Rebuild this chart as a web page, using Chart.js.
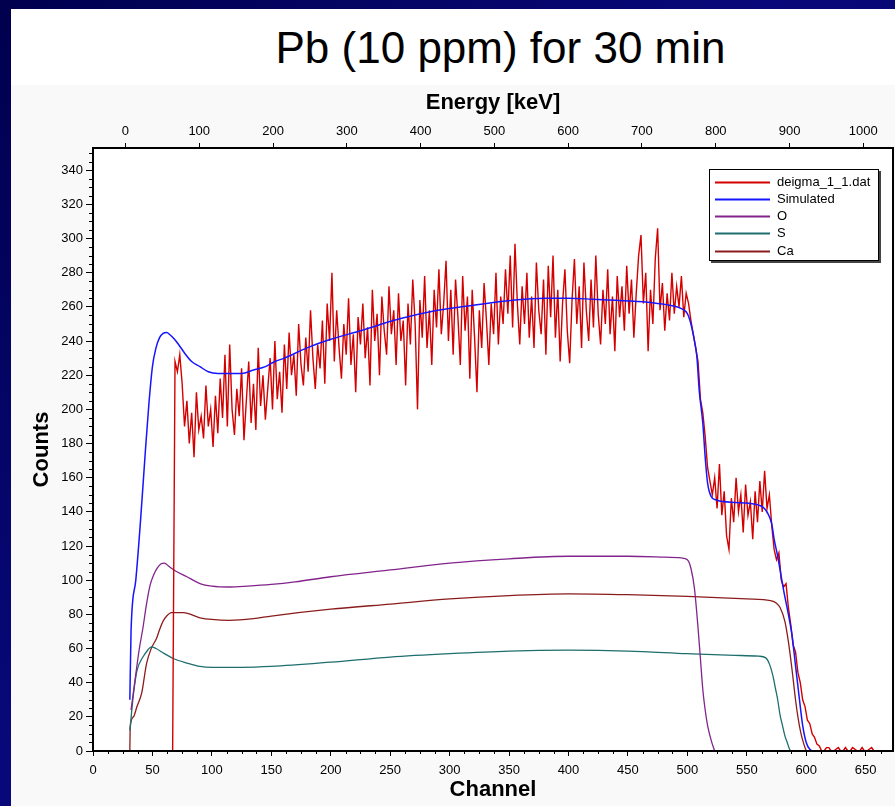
<!DOCTYPE html>
<html>
<head>
<meta charset="utf-8">
<title>Pb (10 ppm) for 30 min</title>
<script src="https://cdn.jsdelivr.net/npm/chart.js@4.4.1/dist/chart.umd.min.js"></script>
<style>
  html, body { margin: 0; padding: 0; }
  body {
    width: 895px; height: 806px; overflow: hidden; position: relative;
    background: linear-gradient(135deg, #00004e 0%, #08087a 45%, #000060 100%);
    font-family: "Liberation Sans", Arial, sans-serif;
  }
  #panel {
    position: absolute; left: 11px; top: 9px; width: 884px; height: 797px;
    background: linear-gradient(to bottom, #ffffff 0, #ffffff 76px, #f9f9f9 76px);
  }
  #title {
    position: absolute; left: 489.5px; top: 17px; transform: translateX(-50%);
    font-size: 44px; line-height: 1; white-space: nowrap; color: #000;
  }
  #chart { position: absolute; left: 0; top: 0; }
</style>
</head>
<body>
<div id="panel">
  <div id="title">Pb (10 ppm) for 30 min</div>
  <canvas id="chart" width="884" height="797"></canvas>
</div>
<script>
const FONT = '"Liberation Sans", Arial, sans-serif';

// axis ranges
const CHANNEL_MAX = 673;
const COUNTS_MAX = 353;
// energy calibration: E = (channel - 27.3) * 1.611 keV
const CAL_OFFSET_CH = 27.3;
const CAL_KEV_PER_CH = 1.611;

// measured spectrum (deigma_1_1.dat), every 2nd channel from channel 67
const measuredStart = 67;
const measuredStep = 2;
const measuredCounts = [
  0, 228, 222, 232, 215, 190, 205, 180, 198, 172, 210, 188, 196, 183, 214, 190, 200, 178, 208, 186,
  218, 195, 232, 190, 238, 200, 185, 212, 196, 224, 182, 205, 228, 192, 215, 188, 236, 202, 220, 194,
  212, 230, 200, 240, 206, 222, 198, 238, 212, 245, 220, 232, 208, 250, 226, 214, 242, 222, 258, 230,
  212, 238, 224, 252, 215, 262, 240, 280, 228, 258, 236, 218, 250, 232, 265, 226, 244, 210, 254, 238,
  262, 230, 248, 214, 270, 240, 256, 220, 266, 246, 232, 272, 244, 258, 226, 268, 240, 252, 214, 262,
  238, 276, 250, 200, 264, 242, 278, 236, 258, 226, 270, 248, 282, 244, 262, 287, 240, 270, 232, 276,
  254, 226, 278, 246, 266, 218, 270, 242, 210, 258, 236, 274, 252, 226, 262, 244, 280, 238, 266, 250,
  282, 256, 290, 248, 297, 262, 238, 272, 250, 280, 242, 266, 236, 286, 258, 244, 276, 232, 284, 254,
  290, 242, 270, 228, 262, 282, 246, 227, 264, 288, 250, 272, 236, 286, 258, 240, 276, 248, 290, 256,
  238, 270, 250, 282, 244, 266, 234, 278, 254, 272, 246, 284, 256, 276, 242, 268, 290, 302, 262, 280,
  234, 270, 250, 288, 306, 258, 274, 246, 268, 252, 280, 256, 272, 260, 278, 254, 268, 262, 252, 244,
  236, 228, 206, 198, 184, 166, 158, 150, 160, 142, 168, 138, 152, 126, 118, 148, 134, 160, 140, 150,
  128, 156, 138, 146, 124, 152, 134, 158, 140, 164, 142, 150, 132, 118, 112, 116, 100, 96, 98, 84,
  74, 62, 58, 46, 40, 30, 26, 18, 16, 10, 8, 4, 3, 0,
  0, 2, 2, 0, 0, 1, 2, 0, 0, 2, 0, 0, 2, 1, 0, 0, 2, 0, 0, 1, 2, 0, 0, 0
];

// Simulated total
const simChannels = [31, 32, 36, 40, 44, 47, 50, 53, 56, 59, 62, 65, 68, 72, 77, 83, 90, 97, 105, 115,
  125, 135, 145, 153, 161, 180, 200, 225, 258, 290, 320, 355, 380, 400, 420, 451, 470, 485, 495, 500,
  503, 506, 508, 510, 513, 515, 517, 520, 524, 530, 540, 552, 563, 567, 571, 573, 576, 579, 581, 585,
  588, 591, 594, 597, 600, 603, 606];
const simCounts = [30, 70, 100, 135, 175, 203, 225, 236, 242, 244.5, 245, 243.5, 241.5, 238, 233, 228, 225, 222, 221, 221,
  221, 223, 225, 228, 230, 236, 241, 246, 253, 258, 261, 264, 265, 265, 264.5, 263.5, 262.5, 261, 259, 256,
  250, 240, 231, 211, 192, 172, 157, 149, 147, 146, 145.5, 145, 143, 140, 133, 124, 114, 102, 94, 80,
  68, 50, 32, 15, 5, 1, 0];

// O contribution
const oChannels = [32, 36, 39, 42, 45, 48, 51, 54, 57, 60, 64, 68, 79, 90, 100, 115, 130, 150, 170, 200,
  250, 300, 350, 400, 450, 480, 495, 500, 503, 506, 509, 511, 513, 515, 517, 519, 521, 523];
const oCounts = [24, 45, 60, 72, 86, 97, 103, 107, 109.5, 110, 108, 106, 102, 98, 96.5, 96, 96.5, 97.5, 99, 102,
  106, 110, 112.5, 114, 114, 113.5, 113, 112, 107, 95, 72, 54, 36, 24, 15, 9, 4, 0];

// S contribution
const sChannels = [31, 34, 37, 42, 46, 49, 53, 60, 68, 79, 90, 100, 125, 150, 200, 250, 300, 350, 400, 450,
  500, 540, 560, 566, 569, 572, 574, 576, 578, 580, 582, 584, 586, 588];
const sCounts = [12, 33, 47, 55, 59, 61, 60, 57, 54, 51.5, 49.5, 49, 49, 49.5, 52, 55, 57, 58.5, 59, 58.5,
  57, 56, 55.5, 54.5, 51, 44, 37, 30, 21, 15, 9, 5, 1, 0];

// Ca contribution
const caChannels = [31, 31.3, 34, 37, 41, 45, 49, 53.5, 56, 59, 62, 66, 76, 90, 100, 115, 135, 150, 200, 250,
  300, 350, 400, 450, 500, 550, 570, 575, 578, 582, 585, 588, 591, 593, 595.5, 598, 600];
const caCounts = [0, 14, 20, 26, 34, 51, 60, 66, 71, 76, 79, 81, 81, 78, 77, 76.5, 77.5, 79, 83, 86,
  89, 91, 92, 91.5, 90.5, 89, 88, 86.5, 84, 76, 64, 48, 30, 20, 10.5, 4, 0];

const seriesLabels = ['deigma_1_1.dat', 'Simulated', 'O', 'S', 'Ca'];
const seriesColors = ['#d40000', '#1515ff', '#82248c', '#1e6e6e', '#8b1c1c'];

// minor tick spacing
const MINOR_COUNTS = 5;
const MINOR_CHANNELS = 12.5;

function pairs(xs, ys) {
  return ys.map((y, i) => ({ x: xs[i], y }));
}

const measuredData = measuredCounts.map((y, i) => ({ x: measuredStart + i * measuredStep, y }));

// white plot area, frame and minor ticks
const framePlugin = {
  id: 'frame',
  beforeDatasetsDraw(chart) {
    const { ctx, chartArea: a } = chart;
    ctx.save();
    ctx.fillStyle = '#ffffff';
    ctx.fillRect(a.left, a.top, a.right - a.left, a.bottom - a.top);
    ctx.restore();
  },
  afterDatasetsDraw(chart) {
    const { ctx, chartArea: a, scales } = chart;
    ctx.save();
    ctx.strokeStyle = '#000';
    ctx.lineWidth = 1;
    ctx.beginPath();
    for (let v = MINOR_COUNTS; v <= scales.y.max; v += MINOR_COUNTS) {
      if (v % 20 === 0) continue;
      const py = Math.round(scales.y.getPixelForValue(v)) + 0.5;
      ctx.moveTo(a.left, py);
      ctx.lineTo(a.left - 4, py);
    }
    for (let v = MINOR_CHANNELS; v <= scales.x.max; v += MINOR_CHANNELS) {
      if (v % 50 === 0) continue;
      const px = Math.round(scales.x.getPixelForValue(v)) + 0.5;
      ctx.moveTo(px, a.bottom);
      ctx.lineTo(px, a.bottom + 3);
    }
    ctx.stroke();
    ctx.lineWidth = 2;
    ctx.strokeRect(a.left, a.top, a.right - a.left, a.bottom - a.top);
    ctx.restore();
  }
};

// legend box in the upper right of the plot
const legendBoxPlugin = {
  id: 'legendBox',
  afterDraw(chart) {
    const { ctx, chartArea: a } = chart;
    const w = 170, h = 92;
    const x0 = a.right - 14 - w;
    const y0 = a.top + 21;
    ctx.save();
    ctx.fillStyle = '#444';
    ctx.fillRect(x0 + 2, y0 + 2, w, h);
    ctx.fillStyle = '#fff';
    ctx.fillRect(x0, y0, w, h);
    ctx.strokeStyle = '#000';
    ctx.lineWidth = 1;
    ctx.strokeRect(x0 + 0.5, y0 + 0.5, w - 1, h - 1);
    ctx.font = '13px ' + FONT;
    ctx.textBaseline = 'middle';
    chart.data.datasets.forEach((ds, i) => {
      const y = Math.round(y0 + 12.5 + i * 17.3) + 0.5;
      ctx.strokeStyle = ds.borderColor;
      ctx.lineWidth = 2;
      ctx.beginPath();
      ctx.moveTo(x0 + 6, y);
      ctx.lineTo(x0 + 61, y);
      ctx.stroke();
      ctx.fillStyle = '#000';
      ctx.fillText(ds.label, x0 + 68, y);
    });
    ctx.restore();
  }
};

const tickFont = { family: FONT, size: 13 };
const titleFont = { family: FONT, size: 22, weight: 'bold' };
const plainLabel = (v) => String(v);

const ctx = document.getElementById('chart').getContext('2d');
new Chart(ctx, {
  type: 'line',
  data: {
    datasets: [
      { label: seriesLabels[0], data: measuredData, borderColor: seriesColors[0], borderWidth: 1.4, order: 1, tension: 0 },
      { label: seriesLabels[1], data: pairs(simChannels, simCounts), borderColor: seriesColors[1], borderWidth: 1.5, order: 0, cubicInterpolationMode: 'monotone' },
      { label: seriesLabels[2], data: pairs(oChannels, oCounts), borderColor: seriesColors[2], borderWidth: 1.3, order: 2, cubicInterpolationMode: 'monotone' },
      { label: seriesLabels[3], data: pairs(sChannels, sCounts), borderColor: seriesColors[3], borderWidth: 1.3, order: 2, cubicInterpolationMode: 'monotone' },
      { label: seriesLabels[4], data: pairs(caChannels, caCounts), borderColor: seriesColors[4], borderWidth: 1.3, order: 2, cubicInterpolationMode: 'monotone' }
    ]
  },
  options: {
    responsive: false,
    animation: false,
    devicePixelRatio: 1,
    parsing: false,
    elements: { point: { radius: 0 }, line: { fill: false } },
    layout: { padding: { top: 80, right: 2, bottom: 0, left: 0 } },
    plugins: {
      legend: { display: false },
      tooltip: { enabled: false },
      title: { display: false }
    },
    scales: {
      x: {
        type: 'linear', position: 'bottom', min: 0, max: CHANNEL_MAX,
        ticks: { stepSize: 50, includeBounds: false, autoSkip: false, maxRotation: 0, color: '#000', font: tickFont, padding: 7, callback: plainLabel },
        grid: { drawOnChartArea: false, tickLength: 5, tickColor: '#000', tickWidth: 1 },
        border: { display: false },
        title: { display: true, text: 'Channel', color: '#000', font: titleFont, padding: { top: 0, bottom: 3 } },
        afterFit: (s) => { s.height = 55; }
      },
      energy: {
        type: 'linear', position: 'top',
        min: -CAL_OFFSET_CH * CAL_KEV_PER_CH,
        max: (CHANNEL_MAX - CAL_OFFSET_CH) * CAL_KEV_PER_CH,
        ticks: { stepSize: 100, includeBounds: false, autoSkip: false, maxRotation: 0, color: '#000', font: tickFont, padding: 4, callback: plainLabel },
        grid: { drawOnChartArea: false, tickLength: 5, tickColor: '#000', tickWidth: 1 },
        border: { display: false },
        title: { display: true, text: 'Energy [keV]', color: '#000', font: titleFont, padding: { top: 1, bottom: 0 } },
        afterFit: (s) => { s.height = 59; }
      },
      y: {
        type: 'linear', position: 'left', min: 0, max: COUNTS_MAX,
        ticks: { stepSize: 20, includeBounds: false, color: '#000', font: tickFont, padding: 3, callback: plainLabel },
        grid: { drawOnChartArea: false, tickLength: 7, tickColor: '#000', tickWidth: 1 },
        border: { display: false },
        title: { display: true, text: 'Counts', color: '#000', font: titleFont, padding: { top: 18, bottom: 0 } },
        afterFit: (s) => { s.width = 82; }
      }
    }
  },
  plugins: [framePlugin, legendBoxPlugin]
});
</script>
</body>
</html>
